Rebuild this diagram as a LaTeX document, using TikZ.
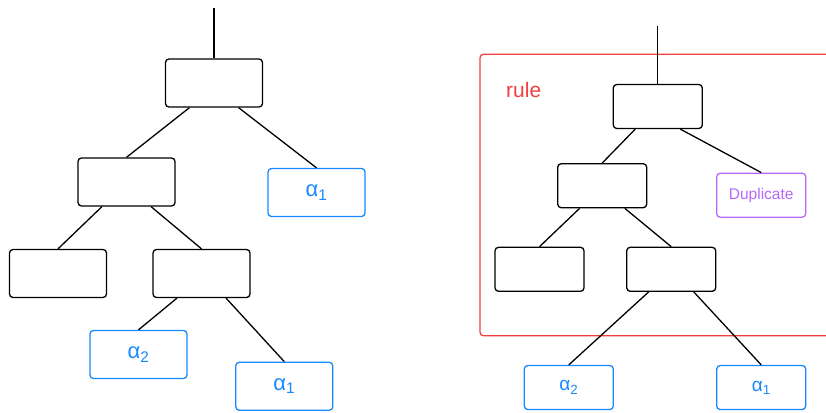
\documentclass[tikz,border=0pt]{standalone}
\usepackage{fontspec}
\setmainfont{Liberation Sans}
\usepackage{xcolor}
\usetikzlibrary{calc}

\definecolor{leafblue}{RGB}{24,136,255}
\definecolor{dupviolet}{RGB}{182,104,250}
\definecolor{rulered}{RGB}{242,62,62}

\tikzset{
  box/.style={draw, rounded corners=3.5pt, line width=1.3pt, inner sep=0pt,
    minimum width=97pt, minimum height=48pt},
  sbox/.style={box, minimum width=89pt, minimum height=44pt},
  leaf/.style={text=leafblue, draw=leafblue, font=\fontsize{22}{24}\selectfont},
  sleaf/.style={text=leafblue, draw=leafblue, font=\fontsize{19}{21}\selectfont},
  edge/.style={line width=1.3pt}
}

\begin{document}
\begin{tikzpicture}[x=1pt, y=-1pt]
      \useasboundingbox (0,0) rectangle (826,412);
      % left tree
      \coordinate (top) at (214,8);
      \node[box] (A) at (214,83) {};
      \node[box] (B) at (126.5,182) {};
      \node[box,leaf] (C) at (316.5,192.5) {α\textsubscript{1}};
      \node[box] (D) at (58,273.5) {};
      \node[box] (E) at (201.5,273.5) {};
      \node[box,leaf] (F) at (138.5,354.5) {α\textsubscript{2}};
      \node[box,leaf] (G) at (284.3,386.3) {α\textsubscript{1}};
      \draw[edge] (top) -- (A.north);
      \draw[edge] ($(A.south)!.5!(A.south west)$) -- (B.north);
      \draw[edge] ($(A.south)!.5!(A.south east)$) -- (C.north);
      \draw[edge] ($(B.south)!.5!(B.south west)$) -- (D.north);
      \draw[edge] ($(B.south)!.5!(B.south east)$) -- (E.north);
      \draw[edge] ($(E.south)!.5!(E.south west)$) -- (F.north);
      \draw[edge] ($(E.south)!.5!(E.south east)$) -- (G.north);
      % right tree, inside the rule
      \draw[rulered, line width=1.3pt, rounded corners=3.5pt] (480,54.3) rectangle (836,335.7);
      \node[text=rulered, anchor=base west, inner sep=0pt,
        font=\fontsize{21}{24}\selectfont] (rule) at (506,97) {rule};
      \coordinate (stop) at (657.8,25.7);
      \node[sbox] (R) at (657.8,106.5) {};
      \node[sbox] (S) at (602.2,185.7) {};
      \node[sbox, text=dupviolet, draw=dupviolet,
        font=\fontsize{15.5}{17}\selectfont] (T) at (761.2,195.2) {Duplicate};
      \node[sbox] (U) at (539.5,269.3) {};
      \node[sbox] (V) at (671.2,269.3) {};
      \node[sbox,sleaf] (W) at (568.8,387.5) {α\textsubscript{2}};
      \node[sbox,sleaf] (X) at (761.2,387.5) {α\textsubscript{1}};
      \draw[edge] (stop) -- (R.north);
      \draw[edge] ($(R.south)!.5!(R.south west)$) -- (S.north);
      \draw[edge] ($(R.south)!.5!(R.south east)$) -- (T.north);
      \draw[edge] ($(S.south)!.5!(S.south west)$) -- (U.north);
      \draw[edge] ($(S.south)!.5!(S.south east)$) -- (V.north);
      \draw[edge] ($(V.south)!.5!(V.south west)$) -- (W.north);
      \draw[edge] ($(V.south)!.5!(V.south east)$) -- (X.north);
\end{tikzpicture}
\end{document}
